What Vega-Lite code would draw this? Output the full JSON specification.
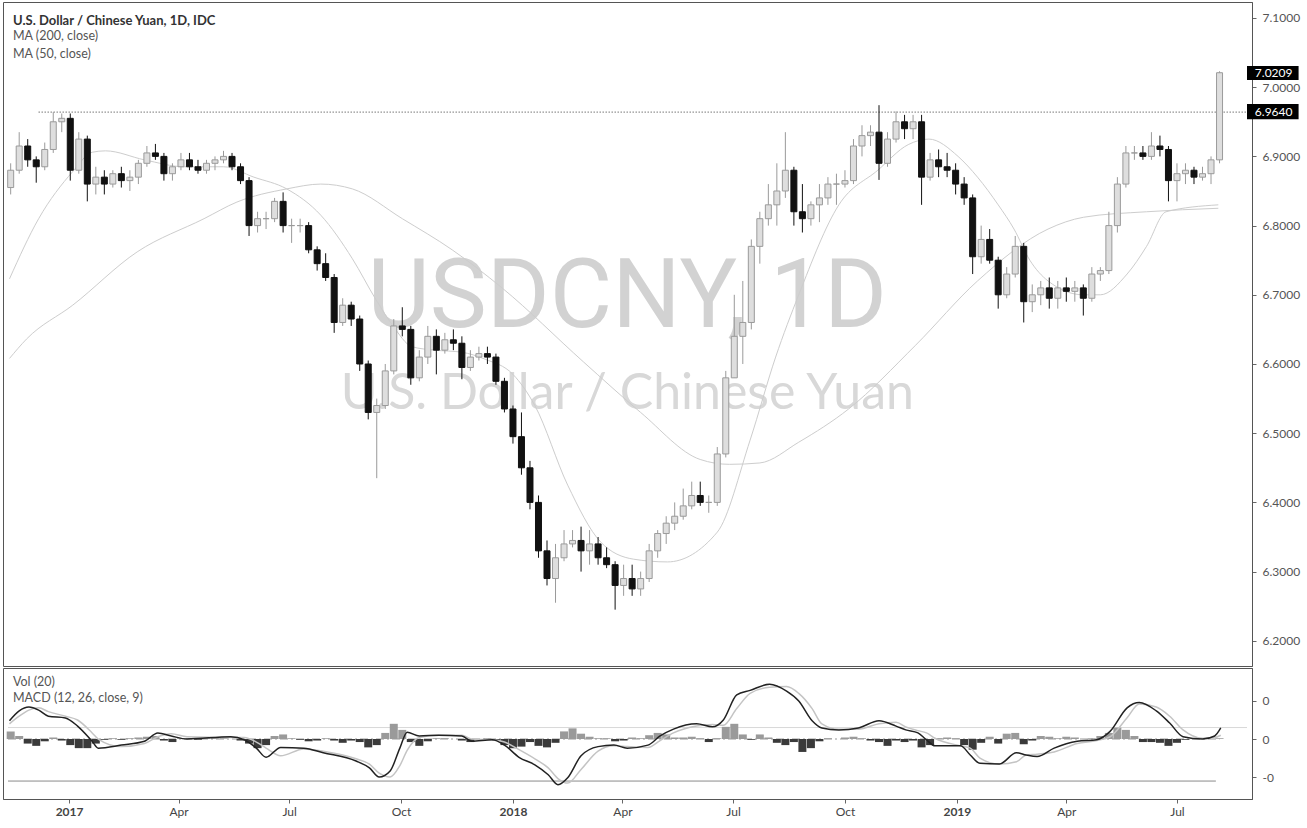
{
  "$schema": "https://vega.github.io/schema/vega-lite/v6.json",
  "background": "white",
  "padding": {"left": 2, "top": 1, "right": 0, "bottom": 0},
  "spacing": 0,
  "config": {
    "view": {"stroke": "#555", "strokeWidth": 1},
    "font": "Lato",
    "axis": {"labelFont": "Lato", "labelFontSize": 12, "labelColor": "#555", "domainColor": "#555", "tickColor": "#666", "grid": false, "tickSize": 4, "title": null}
  },
  "datasets": {
    "one": [{}],
    "weekly": [
      {"d":"2016-11-14","o":6.855,"h":6.89,"l":6.845,"c":6.88,"m":0.01},
      {"d":"2016-11-21","o":6.88,"h":6.935,"l":6.875,"c":6.915,"m":0.004},
      {"d":"2016-11-28","o":6.915,"h":6.925,"l":6.885,"c":6.895,"m":-0.006},
      {"d":"2016-12-05","o":6.895,"h":6.9,"l":6.862,"c":6.885,"m":-0.009},
      {"d":"2016-12-12","o":6.885,"h":6.92,"l":6.88,"c":6.91,"m":-0.003},
      {"d":"2016-12-19","o":6.91,"h":6.964,"l":6.905,"c":6.95,"m":0.002},
      {"d":"2016-12-26","o":6.95,"h":6.962,"l":6.935,"c":6.955,"m":-0.002},
      {"d":"2017-01-02","o":6.955,"h":6.962,"l":6.865,"c":6.88,"m":-0.008},
      {"d":"2017-01-09","o":6.88,"h":6.935,"l":6.875,"c":6.925,"m":-0.012},
      {"d":"2017-01-16","o":6.925,"h":6.93,"l":6.835,"c":6.86,"m":-0.012},
      {"d":"2017-01-23","o":6.86,"h":6.885,"l":6.845,"c":6.87,"m":-0.006},
      {"d":"2017-01-30","o":6.87,"h":6.88,"l":6.845,"c":6.86,"m":-0.001},
      {"d":"2017-02-06","o":6.86,"h":6.88,"l":6.855,"c":6.875,"m":0.001},
      {"d":"2017-02-13","o":6.875,"h":6.885,"l":6.855,"c":6.865,"m":-0.001},
      {"d":"2017-02-20","o":6.865,"h":6.88,"l":6.85,"c":6.87,"m":0.001},
      {"d":"2017-02-27","o":6.87,"h":6.895,"l":6.86,"c":6.89,"m":0.002},
      {"d":"2017-03-06","o":6.89,"h":6.915,"l":6.885,"c":6.905,"m":0.003},
      {"d":"2017-03-13","o":6.905,"h":6.918,"l":6.895,"c":6.9,"m":0.004},
      {"d":"2017-03-20","o":6.9,"h":6.905,"l":6.865,"c":6.875,"m":-0.002},
      {"d":"2017-03-27","o":6.875,"h":6.89,"l":6.865,"c":6.885,"m":-0.004},
      {"d":"2017-04-03","o":6.885,"h":6.905,"l":6.88,"c":6.895,"m":0.001},
      {"d":"2017-04-10","o":6.895,"h":6.905,"l":6.88,"c":6.885,"m":0.001},
      {"d":"2017-04-17","o":6.885,"h":6.895,"l":6.875,"c":6.88,"m":-0.001},
      {"d":"2017-04-24","o":6.88,"h":6.895,"l":6.875,"c":6.89,"m":0.001},
      {"d":"2017-05-01","o":6.89,"h":6.9,"l":6.88,"c":6.895,"m":0.001},
      {"d":"2017-05-08","o":6.895,"h":6.908,"l":6.89,"c":6.9,"m":0.001},
      {"d":"2017-05-15","o":6.9,"h":6.905,"l":6.88,"c":6.885,"m":0.0},
      {"d":"2017-05-22","o":6.885,"h":6.89,"l":6.86,"c":6.865,"m":-0.002},
      {"d":"2017-05-29","o":6.865,"h":6.87,"l":6.785,"c":6.8,"m":-0.006},
      {"d":"2017-06-05","o":6.8,"h":6.82,"l":6.79,"c":6.81,"m":-0.012},
      {"d":"2017-06-12","o":6.81,"h":6.82,"l":6.795,"c":6.81,"m":-0.008},
      {"d":"2017-06-19","o":6.81,"h":6.84,"l":6.805,"c":6.835,"m":0.004},
      {"d":"2017-06-26","o":6.835,"h":6.848,"l":6.79,"c":6.8,"m":0.006},
      {"d":"2017-07-03","o":6.8,"h":6.81,"l":6.775,"c":6.8,"m":0.001},
      {"d":"2017-07-10","o":6.8,"h":6.81,"l":6.79,"c":6.8,"m":-0.001},
      {"d":"2017-07-17","o":6.8,"h":6.805,"l":6.76,"c":6.765,"m":-0.003},
      {"d":"2017-07-24","o":6.765,"h":6.77,"l":6.735,"c":6.745,"m":-0.002},
      {"d":"2017-07-31","o":6.745,"h":6.76,"l":6.72,"c":6.725,"m":0.001},
      {"d":"2017-08-07","o":6.725,"h":6.73,"l":6.645,"c":6.66,"m":-0.002},
      {"d":"2017-08-14","o":6.66,"h":6.695,"l":6.655,"c":6.685,"m":-0.005},
      {"d":"2017-08-21","o":6.685,"h":6.69,"l":6.655,"c":6.665,"m":-0.002},
      {"d":"2017-08-28","o":6.665,"h":6.67,"l":6.59,"c":6.6,"m":-0.004},
      {"d":"2017-09-04","o":6.6,"h":6.605,"l":6.52,"c":6.53,"m":-0.011},
      {"d":"2017-09-11","o":6.53,"h":6.55,"l":6.435,"c":6.54,"m":-0.008},
      {"d":"2017-09-18","o":6.54,"h":6.6,"l":6.535,"c":6.59,"m":0.008},
      {"d":"2017-09-25","o":6.59,"h":6.665,"l":6.585,"c":6.655,"m":0.02},
      {"d":"2017-10-02","o":6.655,"h":6.682,"l":6.64,"c":6.65,"m":0.012},
      {"d":"2017-10-09","o":6.65,"h":6.655,"l":6.57,"c":6.58,"m":-0.004},
      {"d":"2017-10-16","o":6.58,"h":6.62,"l":6.575,"c":6.61,"m":-0.009},
      {"d":"2017-10-23","o":6.61,"h":6.655,"l":6.6,"c":6.64,"m":-0.003},
      {"d":"2017-10-30","o":6.64,"h":6.65,"l":6.585,"c":6.62,"m":0.001},
      {"d":"2017-11-06","o":6.62,"h":6.645,"l":6.615,"c":6.635,"m":0.001},
      {"d":"2017-11-13","o":6.635,"h":6.65,"l":6.62,"c":6.63,"m":0.0},
      {"d":"2017-11-20","o":6.63,"h":6.64,"l":6.578,"c":6.595,"m":-0.002},
      {"d":"2017-11-27","o":6.595,"h":6.62,"l":6.59,"c":6.61,"m":-0.004},
      {"d":"2017-12-04","o":6.61,"h":6.625,"l":6.605,"c":6.615,"m":-0.001},
      {"d":"2017-12-11","o":6.615,"h":6.625,"l":6.6,"c":6.61,"m":0.001},
      {"d":"2017-12-18","o":6.61,"h":6.615,"l":6.57,"c":6.575,"m":-0.002},
      {"d":"2017-12-25","o":6.575,"h":6.58,"l":6.53,"c":6.535,"m":-0.008},
      {"d":"2018-01-01","o":6.535,"h":6.54,"l":6.485,"c":6.495,"m":-0.012},
      {"d":"2018-01-08","o":6.495,"h":6.53,"l":6.44,"c":6.45,"m":-0.01},
      {"d":"2018-01-15","o":6.45,"h":6.46,"l":6.39,"c":6.4,"m":-0.004},
      {"d":"2018-01-22","o":6.4,"h":6.41,"l":6.32,"c":6.33,"m":-0.009},
      {"d":"2018-01-29","o":6.33,"h":6.345,"l":6.28,"c":6.29,"m":-0.011},
      {"d":"2018-02-05","o":6.29,"h":6.34,"l":6.255,"c":6.32,"m":-0.005},
      {"d":"2018-02-12","o":6.32,"h":6.36,"l":6.315,"c":6.34,"m":0.01},
      {"d":"2018-02-19","o":6.34,"h":6.36,"l":6.335,"c":6.345,"m":0.014},
      {"d":"2018-02-26","o":6.345,"h":6.365,"l":6.3,"c":6.33,"m":0.007},
      {"d":"2018-03-05","o":6.33,"h":6.36,"l":6.31,"c":6.34,"m":0.003},
      {"d":"2018-03-12","o":6.34,"h":6.35,"l":6.31,"c":6.32,"m":0.001},
      {"d":"2018-03-19","o":6.32,"h":6.335,"l":6.305,"c":6.31,"m":0.001},
      {"d":"2018-03-26","o":6.31,"h":6.315,"l":6.245,"c":6.28,"m":-0.003},
      {"d":"2018-04-02","o":6.28,"h":6.31,"l":6.265,"c":6.29,"m":-0.002},
      {"d":"2018-04-09","o":6.29,"h":6.31,"l":6.265,"c":6.275,"m":0.002},
      {"d":"2018-04-16","o":6.275,"h":6.3,"l":6.265,"c":6.29,"m":0.001},
      {"d":"2018-04-23","o":6.29,"h":6.34,"l":6.285,"c":6.33,"m":0.005},
      {"d":"2018-04-30","o":6.33,"h":6.36,"l":6.32,"c":6.355,"m":0.008},
      {"d":"2018-05-07","o":6.355,"h":6.38,"l":6.34,"c":6.37,"m":0.006},
      {"d":"2018-05-14","o":6.37,"h":6.4,"l":6.36,"c":6.38,"m":0.002},
      {"d":"2018-05-21","o":6.38,"h":6.42,"l":6.375,"c":6.395,"m":0.002},
      {"d":"2018-05-28","o":6.395,"h":6.43,"l":6.39,"c":6.41,"m":0.003},
      {"d":"2018-06-04","o":6.41,"h":6.43,"l":6.395,"c":6.4,"m":0.001},
      {"d":"2018-06-11","o":6.4,"h":6.41,"l":6.385,"c":6.4,"m":-0.004},
      {"d":"2018-06-18","o":6.4,"h":6.48,"l":6.395,"c":6.47,"m":0.001},
      {"d":"2018-06-25","o":6.47,"h":6.59,"l":6.465,"c":6.58,"m":0.016},
      {"d":"2018-07-02","o":6.58,"h":6.7,"l":6.58,"c":6.64,"m":0.02},
      {"d":"2018-07-09","o":6.64,"h":6.72,"l":6.6,"c":6.66,"m":0.006},
      {"d":"2018-07-16","o":6.66,"h":6.78,"l":6.65,"c":6.77,"m":-0.001},
      {"d":"2018-07-23","o":6.77,"h":6.82,"l":6.745,"c":6.81,"m":0.006},
      {"d":"2018-07-30","o":6.81,"h":6.86,"l":6.8,"c":6.83,"m":0.002},
      {"d":"2018-08-06","o":6.83,"h":6.89,"l":6.8,"c":6.85,"m":-0.005},
      {"d":"2018-08-13","o":6.85,"h":6.935,"l":6.84,"c":6.88,"m":-0.008},
      {"d":"2018-08-20","o":6.88,"h":6.885,"l":6.8,"c":6.82,"m":-0.004},
      {"d":"2018-08-27","o":6.82,"h":6.86,"l":6.79,"c":6.81,"m":-0.017},
      {"d":"2018-09-03","o":6.81,"h":6.835,"l":6.8,"c":6.83,"m":-0.012},
      {"d":"2018-09-10","o":6.83,"h":6.86,"l":6.805,"c":6.84,"m":-0.003},
      {"d":"2018-09-17","o":6.84,"h":6.87,"l":6.83,"c":6.86,"m":0.001},
      {"d":"2018-09-24","o":6.86,"h":6.875,"l":6.83,"c":6.86,"m":0.0},
      {"d":"2018-10-01","o":6.86,"h":6.88,"l":6.855,"c":6.865,"m":0.002},
      {"d":"2018-10-08","o":6.865,"h":6.925,"l":6.86,"c":6.915,"m":0.003},
      {"d":"2018-10-15","o":6.915,"h":6.945,"l":6.9,"c":6.93,"m":0.001},
      {"d":"2018-10-22","o":6.93,"h":6.945,"l":6.915,"c":6.935,"m":-0.002},
      {"d":"2018-10-29","o":6.935,"h":6.974,"l":6.866,"c":6.89,"m":-0.004},
      {"d":"2018-11-05","o":6.89,"h":6.935,"l":6.885,"c":6.925,"m":-0.009},
      {"d":"2018-11-12","o":6.925,"h":6.965,"l":6.92,"c":6.95,"m":-0.002},
      {"d":"2018-11-19","o":6.95,"h":6.96,"l":6.925,"c":6.94,"m":-0.004},
      {"d":"2018-11-26","o":6.94,"h":6.96,"l":6.925,"c":6.95,"m":-0.002},
      {"d":"2018-12-03","o":6.95,"h":6.96,"l":6.83,"c":6.87,"m":-0.011},
      {"d":"2018-12-10","o":6.87,"h":6.905,"l":6.865,"c":6.895,"m":-0.008},
      {"d":"2018-12-17","o":6.895,"h":6.91,"l":6.87,"c":6.885,"m":0.001},
      {"d":"2018-12-24","o":6.885,"h":6.905,"l":6.87,"c":6.88,"m":0.002},
      {"d":"2018-12-31","o":6.88,"h":6.89,"l":6.845,"c":6.86,"m":0.001},
      {"d":"2019-01-07","o":6.86,"h":6.87,"l":6.83,"c":6.84,"m":-0.008},
      {"d":"2019-01-14","o":6.84,"h":6.845,"l":6.73,"c":6.755,"m":-0.014},
      {"d":"2019-01-21","o":6.755,"h":6.8,"l":6.745,"c":6.78,"m":-0.005},
      {"d":"2019-01-28","o":6.78,"h":6.795,"l":6.745,"c":6.75,"m":0.003},
      {"d":"2019-02-04","o":6.75,"h":6.755,"l":6.68,"c":6.7,"m":-0.006},
      {"d":"2019-02-11","o":6.7,"h":6.74,"l":6.695,"c":6.73,"m":0.007},
      {"d":"2019-02-18","o":6.73,"h":6.785,"l":6.725,"c":6.77,"m":0.008},
      {"d":"2019-02-25","o":6.77,"h":6.775,"l":6.66,"c":6.69,"m":-0.007},
      {"d":"2019-03-04","o":6.69,"h":6.715,"l":6.675,"c":6.7,"m":-0.002},
      {"d":"2019-03-11","o":6.7,"h":6.72,"l":6.685,"c":6.71,"m":0.004},
      {"d":"2019-03-18","o":6.71,"h":6.725,"l":6.68,"c":6.695,"m":0.003},
      {"d":"2019-03-25","o":6.695,"h":6.72,"l":6.68,"c":6.71,"m":0.001},
      {"d":"2019-04-01","o":6.71,"h":6.725,"l":6.69,"c":6.705,"m":0.003},
      {"d":"2019-04-08","o":6.705,"h":6.72,"l":6.69,"c":6.71,"m":0.002},
      {"d":"2019-04-15","o":6.71,"h":6.715,"l":6.67,"c":6.695,"m":0.0},
      {"d":"2019-04-22","o":6.695,"h":6.74,"l":6.69,"c":6.73,"m":0.001},
      {"d":"2019-04-29","o":6.73,"h":6.74,"l":6.72,"c":6.735,"m":0.004},
      {"d":"2019-05-06","o":6.735,"h":6.82,"l":6.73,"c":6.8,"m":0.008},
      {"d":"2019-05-13","o":6.8,"h":6.87,"l":6.79,"c":6.86,"m":0.015},
      {"d":"2019-05-20","o":6.86,"h":6.915,"l":6.855,"c":6.905,"m":0.012},
      {"d":"2019-05-27","o":6.905,"h":6.915,"l":6.895,"c":6.905,"m":0.004},
      {"d":"2019-06-03","o":6.905,"h":6.915,"l":6.895,"c":6.9,"m":-0.004},
      {"d":"2019-06-10","o":6.9,"h":6.935,"l":6.895,"c":6.915,"m":-0.004},
      {"d":"2019-06-17","o":6.915,"h":6.93,"l":6.9,"c":6.91,"m":-0.005},
      {"d":"2019-06-24","o":6.91,"h":6.915,"l":6.835,"c":6.865,"m":-0.009},
      {"d":"2019-07-01","o":6.865,"h":6.89,"l":6.835,"c":6.875,"m":-0.005},
      {"d":"2019-07-08","o":6.875,"h":6.89,"l":6.86,"c":6.88,"m":-0.001},
      {"d":"2019-07-15","o":6.88,"h":6.885,"l":6.86,"c":6.87,"m":0.0},
      {"d":"2019-07-22","o":6.87,"h":6.885,"l":6.865,"c":6.875,"m":0.0},
      {"d":"2019-07-29","o":6.875,"h":6.9,"l":6.86,"c":6.895,"m":0.0},
      {"d":"2019-08-05","o":6.895,"h":7.023,"l":6.89,"c":7.0209,"m":0.001}
    ],
    "ma200": [
      {"d":"2016-11-13","v":6.608},{"d":"2016-11-27","v":6.636},{"d":"2017-01-04","v":6.685},
      {"d":"2017-02-26","v":6.762},{"d":"2017-04-22","v":6.81},{"d":"2017-05-19","v":6.834},
      {"d":"2017-06-29","v":6.853},{"d":"2017-07-27","v":6.86},{"d":"2017-08-22","v":6.853},
      {"d":"2017-10-02","v":6.81},{"d":"2017-11-12","v":6.765},{"d":"2017-12-23","v":6.71},
      {"d":"2018-02-28","v":6.603},{"d":"2018-04-16","v":6.53},{"d":"2018-06-04","v":6.462},
      {"d":"2018-06-28","v":6.455},{"d":"2018-07-23","v":6.457},{"d":"2018-08-24","v":6.487},
      {"d":"2018-10-04","v":6.535},{"d":"2018-11-28","v":6.627},{"d":"2019-01-18","v":6.72},
      {"d":"2019-03-17","v":6.795},{"d":"2019-04-15","v":6.812},{"d":"2019-06-06","v":6.82},
      {"d":"2019-08-04","v":6.825}
    ],
    "ma50": [
      {"d":"2016-11-13","v":6.723},{"d":"2016-12-07","v":6.81},{"d":"2017-01-04","v":6.878},
      {"d":"2017-01-20","v":6.906},{"d":"2017-01-31","v":6.908},{"d":"2017-03-04","v":6.895},
      {"d":"2017-04-06","v":6.885},{"d":"2017-05-08","v":6.885},{"d":"2017-06-02","v":6.87},
      {"d":"2017-06-29","v":6.853},{"d":"2017-07-27","v":6.815},{"d":"2017-08-22","v":6.752},
      {"d":"2017-09-10","v":6.694},{"d":"2017-09-24","v":6.656},{"d":"2017-10-10","v":6.625},
      {"d":"2017-10-29","v":6.62},{"d":"2017-11-20","v":6.617},{"d":"2017-12-09","v":6.607},
      {"d":"2018-01-01","v":6.585},{"d":"2018-01-19","v":6.54},{"d":"2018-02-15","v":6.425},
      {"d":"2018-03-14","v":6.343},{"d":"2018-04-10","v":6.318},{"d":"2018-05-08","v":6.314},
      {"d":"2018-06-18","v":6.357},{"d":"2018-07-15","v":6.49},{"d":"2018-08-05","v":6.61},
      {"d":"2018-08-24","v":6.7},{"d":"2018-09-26","v":6.83},{"d":"2018-10-28","v":6.88},
      {"d":"2018-11-22","v":6.917},{"d":"2018-12-09","v":6.925},{"d":"2019-01-02","v":6.9},
      {"d":"2019-01-18","v":6.87},{"d":"2019-02-04","v":6.83},{"d":"2019-02-17","v":6.795},
      {"d":"2019-03-02","v":6.75},{"d":"2019-03-17","v":6.72},{"d":"2019-04-15","v":6.7},
      {"d":"2019-04-29","v":6.7},{"d":"2019-05-21","v":6.73},{"d":"2019-06-06","v":6.77},
      {"d":"2019-06-22","v":6.82},{"d":"2019-08-04","v":6.83}
    ],
    "macd": [
      {"d":"2016-11-13","m":0.024,"s":0.02},{"d":"2016-11-21","m":0.037,"s":0.03},
      {"d":"2016-11-29","m":0.042,"s":0.038},{"d":"2016-12-07","m":0.038,"s":0.041},
      {"d":"2016-12-15","m":0.03,"s":0.036},{"d":"2016-12-29","m":0.0276,"s":0.03},
      {"d":"2017-01-08","m":0.017,"s":0.025},{"d":"2017-01-20","m":-0.003,"s":0.008},
      {"d":"2017-01-25","m":-0.012,"s":0.0},{"d":"2017-02-13","m":-0.008,"s":-0.01},
      {"d":"2017-03-04","m":-0.003,"s":-0.006},{"d":"2017-03-15","m":0.008,"s":0.003},
      {"d":"2017-03-26","m":0.004,"s":0.007},{"d":"2017-04-08","m":0.0,"s":0.003},
      {"d":"2017-05-14","m":0.003,"s":0.002},{"d":"2017-05-25","m":-0.001,"s":0.002},
      {"d":"2017-06-04","m":-0.012,"s":-0.004},{"d":"2017-06-12","m":-0.024,"s":-0.012},
      {"d":"2017-06-24","m":-0.011,"s":-0.022},{"d":"2017-07-13","m":-0.012,"s":-0.013},
      {"d":"2017-07-29","m":-0.018,"s":-0.016},{"d":"2017-08-25","m":-0.029,"s":-0.026},
      {"d":"2017-09-05","m":-0.038,"s":-0.033},{"d":"2017-09-13","m":-0.05,"s":-0.045},
      {"d":"2017-09-22","m":-0.042,"s":-0.05},{"d":"2017-09-30","m":-0.012,"s":-0.035},
      {"d":"2017-10-06","m":0.009,"s":-0.015},{"d":"2017-10-16","m":0.004,"s":0.002},
      {"d":"2017-11-01","m":0.005,"s":0.005},{"d":"2017-11-20","m":0.004,"s":0.005},
      {"d":"2017-11-28","m":-0.003,"s":0.0},{"d":"2017-12-15","m":-0.001,"s":-0.001},
      {"d":"2017-12-25","m":-0.008,"s":-0.004},{"d":"2018-01-06","m":-0.024,"s":-0.014},
      {"d":"2018-01-19","m":-0.034,"s":-0.026},{"d":"2018-01-30","m":-0.047,"s":-0.038},
      {"d":"2018-02-07","m":-0.06,"s":-0.052},{"d":"2018-02-15","m":-0.051,"s":-0.058},
      {"d":"2018-02-26","m":-0.022,"s":-0.04},{"d":"2018-03-12","m":-0.01,"s":-0.016},
      {"d":"2018-03-25","m":-0.008,"s":-0.009},{"d":"2018-04-05","m":-0.012,"s":-0.01},
      {"d":"2018-04-22","m":-0.008,"s":-0.011},{"d":"2018-05-02","m":0.004,"s":-0.002},
      {"d":"2018-05-13","m":0.013,"s":0.008},{"d":"2018-06-01","m":0.02,"s":0.017},
      {"d":"2018-06-14","m":0.016,"s":0.019},{"d":"2018-06-23","m":0.025,"s":0.018},
      {"d":"2018-07-04","m":0.058,"s":0.04},{"d":"2018-07-15","m":0.064,"s":0.06},
      {"d":"2018-07-31","m":0.072,"s":0.068},{"d":"2018-08-14","m":0.063,"s":0.069},
      {"d":"2018-08-24","m":0.05,"s":0.06},{"d":"2018-09-04","m":0.024,"s":0.04},
      {"d":"2018-09-12","m":0.0145,"s":0.02},{"d":"2018-09-26","m":0.012,"s":0.013},
      {"d":"2018-10-12","m":0.0145,"s":0.013},{"d":"2018-10-29","m":0.024,"s":0.02},
      {"d":"2018-11-12","m":0.017,"s":0.022},{"d":"2018-11-20","m":0.012,"s":0.016},
      {"d":"2018-11-30","m":0.008,"s":0.011},{"d":"2018-12-07","m":-0.001,"s":0.008},
      {"d":"2018-12-14","m":-0.009,"s":0.001},{"d":"2019-01-04","m":-0.009,"s":-0.009},
      {"d":"2019-01-12","m":-0.021,"s":-0.012},{"d":"2019-01-20","m":-0.032,"s":-0.025},
      {"d":"2019-02-05","m":-0.033,"s":-0.033},{"d":"2019-02-19","m":-0.018,"s":-0.03},
      {"d":"2019-02-27","m":-0.021,"s":-0.021},{"d":"2019-03-08","m":-0.023,"s":-0.02},
      {"d":"2019-03-22","m":-0.012,"s":-0.017},{"d":"2019-04-10","m":-0.003,"s":-0.006},
      {"d":"2019-04-26","m":-0.001,"s":-0.002},{"d":"2019-05-07","m":0.01,"s":0.003},
      {"d":"2019-05-21","m":0.041,"s":0.028},{"d":"2019-05-31","m":0.048,"s":0.046},
      {"d":"2019-06-14","m":0.037,"s":0.042},{"d":"2019-06-25","m":0.021,"s":0.03},
      {"d":"2019-07-06","m":0.003,"s":0.012},{"d":"2019-07-22","m":0.0,"s":0.001},
      {"d":"2019-08-01","m":0.004,"s":0.002},{"d":"2019-08-06","m":0.0145,"s":0.005}
    ]
  },
  "vconcat": [
    {
      "width": 1249,
      "height": 664,
      "title": {
        "text": "U.S. Dollar / Chinese Yuan, 1D, IDC",
        "subtitle": ["MA (200, close)", "MA (50, close)"],
        "anchor": "start", "frame": "group", "offset": -58, "dx": 10,
        "font": "Lato", "fontSize": 13, "fontWeight": "bold", "color": "#333",
        "subtitleFont": "Lato", "subtitleFontSize": 12.5, "subtitleColor": "#555",
        "subtitlePadding": 2, "subtitleLineHeight": 18
      },
      "layer": [
        {
          "data": {"name": "one"},
          "mark": {"type": "text", "text": "USDCNY, 1D", "font": "Roboto", "fontSize": 96, "fill": "#d2d2d2", "align": "center", "baseline": "alphabetic"},
          "encoding": {
            "x": {"datum": {"year": 2018, "month": 4, "date": 5, "utc": true}, "type": "temporal", "axis": null,
              "scale": {"type": "utc", "domain": [{"year": 2016, "month": 11, "date": 11, "hours": 19, "utc": true}, {"year": 2019, "month": 8, "date": 27, "hours": 14, "utc": true}]}},
            "y": {"datum": 6.6535, "type": "quantitative",
              "scale": {"domain": [6.1636, 7.1231], "nice": false, "zero": false},
              "axis": {"orient": "right", "values": [6.2, 6.25, 6.3, 6.35, 6.4, 6.45, 6.5, 6.55, 6.6, 6.65, 6.7, 6.75, 6.8, 6.85, 6.9, 6.95, 7.0, 7.05, 7.1], "format": ".4f", "labelPadding": 6, "tickSize": 4}}
          }
        },
        {
          "data": {"name": "one"},
          "mark": {"type": "text", "text": "U.S. Dollar / Chinese Yuan", "font": "Lato", "fontSize": 50, "fill": "#d8d8d8", "align": "center", "baseline": "alphabetic"},
          "encoding": {
            "x": {"datum": {"year": 2018, "month": 4, "date": 5, "utc": true}, "type": "temporal", "scale": {"type": "utc"}},
            "y": {"datum": 6.535, "type": "quantitative"}
          }
        },
        {
          "data": {"name": "ma200"},
          "mark": {"type": "line", "stroke": "#cdcdcd", "strokeWidth": 1, "interpolate": "monotone"},
          "encoding": {
            "x": {"field": "d", "type": "temporal", "scale": {"type": "utc"}},
            "y": {"field": "v", "type": "quantitative"}
          }
        },
        {
          "data": {"name": "ma50"},
          "mark": {"type": "line", "stroke": "#cdcdcd", "strokeWidth": 1, "interpolate": "monotone"},
          "encoding": {
            "x": {"field": "d", "type": "temporal", "scale": {"type": "utc"}},
            "y": {"field": "v", "type": "quantitative"}
          }
        },
        {
          "data": {"name": "one"},
          "mark": {"type": "rule", "stroke": "#333", "strokeWidth": 1, "strokeDash": [1, 2]},
          "encoding": {
            "x": {"datum": {"year": 2016, "month": 12, "date": 7, "utc": true}, "type": "temporal", "scale": {"type": "utc"}},
            "x2": {"datum": {"year": 2019, "month": 8, "date": 27, "hours": 14, "utc": true}},
            "y": {"datum": 6.964, "type": "quantitative"}
          }
        },
        {
          "data": {"name": "weekly"},
          "mark": {"type": "rule", "strokeWidth": 1},
          "encoding": {
            "x": {"field": "d", "type": "temporal", "scale": {"type": "utc"}},
            "y": {"field": "l", "type": "quantitative"},
            "y2": {"field": "h"},
            "stroke": {"condition": {"test": "datum.c >= datum.o", "value": "#9a9a9a"}, "value": "#111"}
          }
        },
        {
          "data": {"name": "weekly"},
          "mark": {"type": "bar", "size": 6, "strokeWidth": 1},
          "encoding": {
            "x": {"field": "d", "type": "temporal", "scale": {"type": "utc"}},
            "y": {"field": "o", "type": "quantitative"},
            "y2": {"field": "c"},
            "fill": {"condition": {"test": "datum.c >= datum.o", "value": "#dedede"}, "value": "#111"},
            "stroke": {"condition": {"test": "datum.c >= datum.o", "value": "#9a9a9a"}, "value": "#111"}
          }
        },
        {
          "data": {"name": "one"},
          "mark": {"type": "rect", "fill": "#000"},
          "encoding": {
            "x": {"datum": {"year": 2019, "month": 8, "date": 27, "hours": 14, "utc": true}, "type": "temporal", "scale": {"type": "utc"}},
            "x2": {"datum": {"year": 2019, "month": 10, "date": 9, "utc": true}},
            "y": {"datum": 7.0306, "type": "quantitative"},
            "y2": {"datum": 7.0104}
          }
        },
        {
          "data": {"name": "one"},
          "mark": {"type": "rect", "fill": "#000"},
          "encoding": {
            "x": {"datum": {"year": 2019, "month": 8, "date": 27, "hours": 14, "utc": true}, "type": "temporal", "scale": {"type": "utc"}},
            "x2": {"datum": {"year": 2019, "month": 10, "date": 9, "utc": true}},
            "y": {"datum": 6.9757, "type": "quantitative"},
            "y2": {"datum": 6.9535}
          }
        },
        {
          "data": {"name": "one"},
          "mark": {"type": "text", "text": "7.0209", "font": "Lato", "fontSize": 12, "fill": "#fff", "align": "center", "baseline": "middle"},
          "encoding": {
            "x": {"datum": {"year": 2019, "month": 9, "date": 18, "hours": 12, "utc": true}, "type": "temporal", "scale": {"type": "utc"}},
            "y": {"datum": 7.0205, "type": "quantitative"}
          }
        },
        {
          "data": {"name": "one"},
          "mark": {"type": "text", "text": "6.9640", "font": "Lato", "fontSize": 12, "fill": "#fff", "align": "center", "baseline": "middle"},
          "encoding": {
            "x": {"datum": {"year": 2019, "month": 9, "date": 18, "hours": 12, "utc": true}, "type": "temporal", "scale": {"type": "utc"}},
            "y": {"datum": 6.9646, "type": "quantitative"}
          }
        }
      ]
    },
    {
      "width": 1249,
      "height": 131,
      "title": {
        "text": "Vol (20)",
        "subtitle": "MACD (12, 26, close, 9)",
        "anchor": "start", "frame": "group", "offset": -36, "dx": 10,
        "font": "Lato", "fontSize": 12.5, "fontWeight": "normal", "color": "#555",
        "subtitleFont": "Lato", "subtitleFontSize": 12.5, "subtitleColor": "#555",
        "subtitlePadding": 3
      },
      "layer": [
        {
          "data": {"name": "one"},
          "mark": {"type": "rule", "stroke": "#d8d8d8", "strokeWidth": 1},
          "encoding": {
            "x": {"datum": {"year": 2016, "month": 11, "date": 11, "hours": 19, "utc": true}, "type": "temporal",
              "scale": {"type": "utc", "domain": [{"year": 2016, "month": 11, "date": 11, "hours": 19, "utc": true}, {"year": 2019, "month": 8, "date": 27, "hours": 14, "utc": true}]},
              "axis": {"values": [
                {"year": 2017, "month": 1, "date": 1, "utc": true}, {"year": 2017, "month": 4, "date": 1, "utc": true},
                {"year": 2017, "month": 7, "date": 1, "utc": true}, {"year": 2017, "month": 10, "date": 1, "utc": true},
                {"year": 2018, "month": 1, "date": 1, "utc": true}, {"year": 2018, "month": 4, "date": 1, "utc": true},
                {"year": 2018, "month": 7, "date": 1, "utc": true}, {"year": 2018, "month": 10, "date": 1, "utc": true},
                {"year": 2019, "month": 1, "date": 1, "utc": true}, {"year": 2019, "month": 4, "date": 1, "utc": true},
                {"year": 2019, "month": 7, "date": 1, "utc": true}],
                "labelExpr": "utcmonth(datum.value) == 0 ? utcFormat(datum.value, '%Y') : utcFormat(datum.value, '%b')",
                "labelFontWeight": {"condition": {"test": "utcmonth(datum.value) == 0", "value": "bold"}, "value": "normal"},
                "labelColor": "#444", "labelPadding": 3, "tickSize": 4, "labelFontSize": 12}},
            "x2": {"datum": {"year": 2019, "month": 8, "date": 27, "hours": 14, "utc": true}},
            "y": {"datum": 0.0151, "type": "quantitative",
              "scale": {"domain": [-0.0789, 0.0934], "nice": false, "zero": false},
              "axis": {"orient": "right", "values": [-0.05, 0, 0.05], "labelExpr": "datum.value < 0 ? '-0' : '0'", "labelPadding": 6, "tickSize": 4}}
          }
        },
        {
          "data": {"name": "one"},
          "mark": {"type": "rule", "stroke": "#8a8a8a", "strokeWidth": 1},
          "encoding": {
            "x": {"datum": {"year": 2016, "month": 11, "date": 11, "hours": 19, "utc": true}, "type": "temporal", "scale": {"type": "utc"}},
            "x2": {"datum": {"year": 2019, "month": 8, "date": 2, "utc": true}},
            "y": {"datum": -0.0553, "type": "quantitative"}
          }
        },
        {
          "data": {"name": "one"},
          "mark": {"type": "rule", "stroke": "#999", "strokeWidth": 1, "strokeDash": [8, 3, 2, 3]},
          "encoding": {
            "x": {"datum": {"year": 2016, "month": 11, "date": 11, "hours": 19, "utc": true}, "type": "temporal", "scale": {"type": "utc"}},
            "x2": {"datum": {"year": 2019, "month": 8, "date": 5, "utc": true}},
            "y": {"datum": 0, "type": "quantitative"}
          }
        },
        {
          "data": {"name": "weekly"},
          "mark": {"type": "bar", "size": 8},
          "encoding": {
            "x": {"field": "d", "type": "temporal", "scale": {"type": "utc"}},
            "y": {"field": "m", "type": "quantitative"},
            "y2": {"datum": 0},
            "color": {"condition": {"test": "datum.m >= 0", "value": "#9a9a9a"}, "value": "#3a3a3a"}
          }
        },
        {
          "data": {"name": "macd"},
          "mark": {"type": "line", "stroke": "#c4c4c4", "strokeWidth": 1.5, "interpolate": "monotone"},
          "encoding": {
            "x": {"field": "d", "type": "temporal", "scale": {"type": "utc"}},
            "y": {"field": "s", "type": "quantitative"}
          }
        },
        {
          "data": {"name": "macd"},
          "mark": {"type": "line", "stroke": "#222", "strokeWidth": 1.5, "interpolate": "monotone"},
          "encoding": {
            "x": {"field": "d", "type": "temporal", "scale": {"type": "utc"}},
            "y": {"field": "m", "type": "quantitative"}
          }
        }
      ]
    }
  ]
}
